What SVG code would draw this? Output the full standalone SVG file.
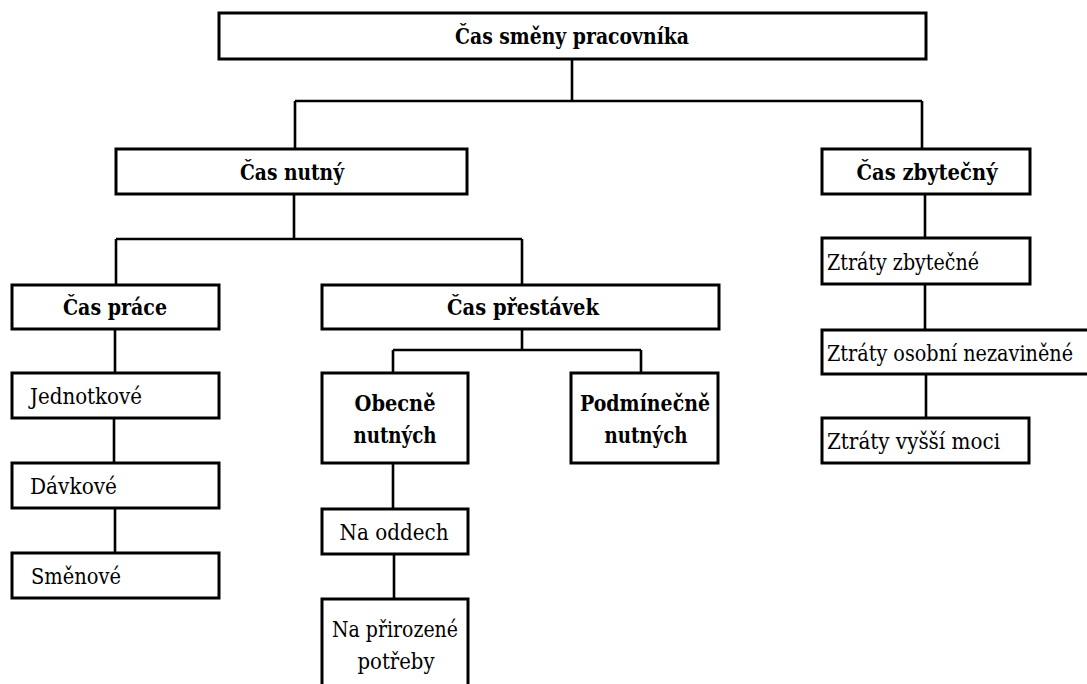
<svg xmlns="http://www.w3.org/2000/svg" width="1087" height="684" viewBox="0 0 1087 684">
  <style>
    .box { fill: #ffffff; stroke: #000000; stroke-width: 3; }
    .link { fill: none; stroke: #000000; stroke-width: 2.6; }
    text { font-family: "DejaVu Serif", "Liberation Serif", serif; font-size: 22px; fill: #000000; }
    .b { font-weight: bold; text-anchor: middle; }
    .c { text-anchor: middle; }
  </style>
  <rect width="1087" height="684" fill="#ffffff"/>

  <!-- connectors -->
  <g id="connectors">
    <path class="link" d="M572 59 V101 M295 101 H922 M295 101 V149 M922 101 V149"/>
    <path class="link" d="M294 194 V239 M116 239 H522 M116 239 V285 M522 239 V285"/>
    <path class="link" d="M522 329 V350 M393 350 H641 M393 350 V373 M641 350 V373"/>
    <path class="link" d="M115 329 V373 M114 418 V463 M115 508 V553"/>
    <path class="link" d="M393 463 V509 M394 554 V599"/>
    <path class="link" d="M925 194 V238 M925 284 V330 M926 374 V418"/>
  </g>

  <!-- root -->
  <g id="n-smena">
    <rect class="box" x="219" y="13" width="707" height="46"/>
    <text class="b" x="572" y="44" textLength="234" lengthAdjust="spacingAndGlyphs">Čas směny pracovníka</text>
  </g>

  <!-- level 1 -->
  <g id="n-nutny">
    <rect class="box" x="116" y="149" width="351" height="45"/>
    <text class="b" x="292" y="180" textLength="104" lengthAdjust="spacingAndGlyphs">Čas nutný</text>
  </g>
  <g id="n-zbytecny">
    <rect class="box" x="822" y="149" width="208" height="45"/>
    <text class="b" x="927" y="180" textLength="141" lengthAdjust="spacingAndGlyphs">Čas zbytečný</text>
  </g>

  <!-- level 2 -->
  <g id="n-prace">
    <rect class="box" x="12" y="285" width="207" height="44"/>
    <text class="b" x="115" y="315" textLength="104" lengthAdjust="spacingAndGlyphs">Čas práce</text>
  </g>
  <g id="n-prestavek">
    <rect class="box" x="322" y="285" width="397" height="44"/>
    <text class="b" x="523" y="315" textLength="152" lengthAdjust="spacingAndGlyphs">Čas přestávek</text>
  </g>

  <!-- work time items -->
  <g id="n-jednotkove">
    <rect class="box" x="12" y="373" width="207" height="45"/>
    <text x="30" y="404" textLength="112" lengthAdjust="spacingAndGlyphs">Jednotkové</text>
  </g>
  <g id="n-davkove">
    <rect class="box" x="12" y="463" width="207" height="45"/>
    <text x="30" y="494" textLength="87" lengthAdjust="spacingAndGlyphs">Dávkové</text>
  </g>
  <g id="n-smenove">
    <rect class="box" x="12" y="553" width="207" height="45"/>
    <text x="31" y="584" textLength="90" lengthAdjust="spacingAndGlyphs">Směnové</text>
  </g>

  <!-- breaks -->
  <g id="n-obecne">
    <rect class="box" x="322" y="373" width="146" height="90"/>
    <text class="b" x="395" y="411" textLength="81" lengthAdjust="spacingAndGlyphs">Obecně</text>
    <text class="b" x="395" y="443" textLength="83" lengthAdjust="spacingAndGlyphs">nutných</text>
  </g>
  <g id="n-podminecne">
    <rect class="box" x="571" y="373" width="147" height="90"/>
    <text class="b" x="645" y="411" textLength="130" lengthAdjust="spacingAndGlyphs">Podmínečně</text>
    <text class="b" x="646" y="443" textLength="83" lengthAdjust="spacingAndGlyphs">nutných</text>
  </g>
  <g id="n-oddech">
    <rect class="box" x="322" y="509" width="146" height="45"/>
    <text class="c" x="394" y="540" textLength="109" lengthAdjust="spacingAndGlyphs">Na oddech</text>
  </g>
  <g id="n-potreby">
    <rect class="box" x="322" y="599" width="146" height="110"/>
    <text class="c" x="395" y="637" textLength="126" lengthAdjust="spacingAndGlyphs">Na přirozené</text>
    <text class="c" x="396" y="669" textLength="77" lengthAdjust="spacingAndGlyphs">potřeby</text>
  </g>

  <!-- losses -->
  <g id="n-ztraty-zbytecne">
    <rect class="box" x="822" y="238" width="208" height="46"/>
    <text x="827" y="270" textLength="152" lengthAdjust="spacingAndGlyphs">Ztráty zbytečné</text>
  </g>
  <g id="n-ztraty-osobni">
    <rect class="box" x="822" y="330" width="280" height="44"/>
    <text x="827" y="361" textLength="246" lengthAdjust="spacingAndGlyphs">Ztráty osobní nezaviněné</text>
  </g>
  <g id="n-ztraty-vyssi">
    <rect class="box" x="822" y="418" width="207" height="45"/>
    <text x="827" y="449" textLength="173" lengthAdjust="spacingAndGlyphs">Ztráty vyšší moci</text>
  </g>
</svg>
